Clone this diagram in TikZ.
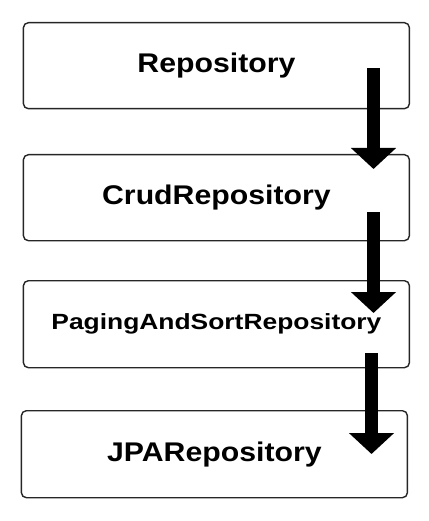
\documentclass[tikz,border=0pt]{standalone}
\usepackage{fontspec}
\setmainfont{Liberation Sans}
\usetikzlibrary{arrows.meta}
\begin{document}
\begin{tikzpicture}[x=1pt,y=-1pt,
  box/.style={draw=black!85,line width=1.4pt,rounded corners=5pt,fill=white,
    minimum width=386pt,minimum height=86pt,inner sep=0pt,anchor=north west,
    font=\bfseries\fontsize{27}{30}\selectfont},
  bigarrow/.style={line width=13pt,line cap=butt,-{Triangle[width=44pt,length=21pt]}}]
\useasboundingbox (0,0) rectangle (428,521);
\node[box] (b1) at (22.7,22) {\scalebox{1.12}[1]{Repository}};
\node[box] (b2) at (22.7,154) {\scalebox{1.12}[1]{CrudRepository}};
\node[box,minimum height=87pt] (b3) at (22.7,280) {\fontsize{22}{26}\selectfont\scalebox{1.2}[1]{PagingAndSortRepository}};
\node[box,minimum height=87pt] (b4) at (20.7,410) {\scalebox{1.12}[1]{JPARepository}};
\coordinate (a1s) at (373.5,68);
\coordinate (a1e) at (373.5,169);
\coordinate (a2s) at (373.5,212);
\coordinate (a2e) at (373.5,313);
\coordinate (a3s) at (371.5,353);
\coordinate (a3e) at (371.5,454);
\draw[bigarrow] (a1s) -- (a1e);
\draw[bigarrow] (a2s) -- (a2e);
\draw[bigarrow] (a3s) -- (a3e);
\end{tikzpicture}
\end{document}
